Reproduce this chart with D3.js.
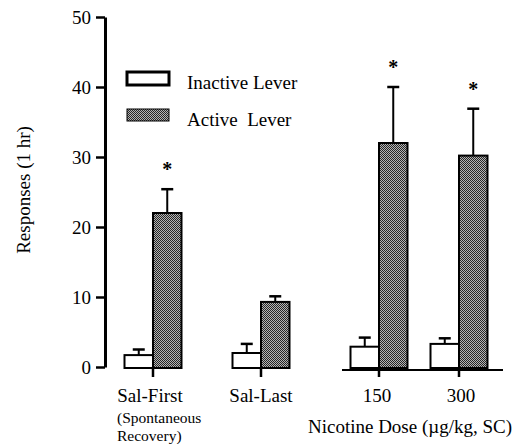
<!DOCTYPE html>
<html>
<head>
<meta charset="utf-8">
<script src="https://cdn.jsdelivr.net/npm/d3@7"></script>
<style>
  body { margin: 0; background: #fff; }
  svg text { font-family: "Liberation Serif", "Times New Roman", Times, "DejaVu Serif", serif !important; fill: #000; }
</style>
</head>
<body>
<div id="chart"></div>
<script>
// groups along the x axis
var groups = ["Sal-First", "Sal-Last", "150", "300"];
var series = ["Inactive Lever", "Active Lever"];

// mean responses and upper error (mean + SEM)
var inactiveMean = [1.7, 2.0, 2.9, 3.3];
var inactiveErr  = [2.5, 3.3, 4.2, 4.1];
var activeMean   = [22.0, 9.3, 32.0, 30.2];
var activeErr    = [25.4, 10.1, 40.0, 36.9];
var significant  = [true, false, true, true];

var yTicks = [0, 10, 20, 30, 40, 50];

var width = 523, height = 444;
var serif = "'Liberation Serif', 'Times New Roman', Times, serif";

var svg = d3.select("#chart")
    .append("svg")
    .attr("width", width)
    .attr("height", height)
    .attr("font-family", serif);

// stippled grey fill for the active lever bars
var pat = svg.append("defs").append("pattern")
    .attr("id", "stipple")
    .attr("width", 2).attr("height", 2)
    .attr("patternUnits", "userSpaceOnUse");
pat.append("rect").attr("width", 2).attr("height", 2).attr("fill", "#b4b4b4");
pat.append("rect").attr("width", 1).attr("height", 1).attr("fill", "#262626");
pat.append("rect").attr("x", 1).attr("y", 1).attr("width", 1).attr("height", 1).attr("fill", "#262626");

var y = d3.scaleLinear().domain([0, 50]).range([367, 17]);

// groups are not evenly spaced in the original, so map each one to its centre
var x = d3.scaleOrdinal().domain(groups).range([153, 261, 379, 459]);
var inner = d3.scaleBand().domain(series).range([-28.5, 28.5]);

// y axis
var yAxis = svg.append("g")
    .attr("transform", "translate(105,0)")
    .call(d3.axisLeft(y).tickValues(yTicks).tickSize(9).tickSizeOuter(0).tickPadding(5));
yAxis.attr("font-family", serif).attr("font-size", 19);
yAxis.select(".domain").attr("stroke", "#000").attr("stroke-width", 3);
yAxis.selectAll(".tick line").attr("stroke", "#000").attr("stroke-width", 2.5);
yAxis.selectAll(".tick text").attr("fill", "#000");

svg.append("text")
    .attr("transform", "translate(30,190) rotate(-90)")
    .attr("text-anchor", "middle")
    .attr("font-size", 19)
    .text("Responses (1 hr)");

// build rows for each bar
var rows = [];
groups.forEach(function(g, i) {
    rows.push({ group: g, s: series[0], mean: inactiveMean[i], err: inactiveErr[i], star: false });
    rows.push({ group: g, s: series[1], mean: activeMean[i], err: activeErr[i], star: significant[i] });
});

var bar = svg.selectAll(".bar")
    .data(rows)
    .enter().append("g")
    .attr("class", "bar");

function mid(d) { return x(d.group) + inner(d.s) + inner.bandwidth() / 2; }

// error bars (upward only), drawn first so the bar covers the stem
bar.append("line")
    .attr("x1", mid).attr("x2", mid)
    .attr("y1", function(d) { return y(d.mean); })
    .attr("y2", function(d) { return y(d.err); })
    .attr("stroke", "#000").attr("stroke-width", 2);
bar.append("line")
    .attr("x1", function(d) { return mid(d) - 6; })
    .attr("x2", function(d) { return mid(d) + 6; })
    .attr("y1", function(d) { return y(d.err); })
    .attr("y2", function(d) { return y(d.err); })
    .attr("stroke", "#000").attr("stroke-width", 2.5);

bar.append("rect")
    .attr("x", function(d) { return x(d.group) + inner(d.s); })
    .attr("y", function(d) { return y(d.mean); })
    .attr("width", inner.bandwidth())
    .attr("height", function(d) { return y(0) - y(d.mean) + 1; })
    .attr("fill", function(d) { return d.s === series[1] ? "url(#stipple)" : "#fff"; })
    .attr("stroke", "#000")
    .attr("stroke-width", 2);

// significance asterisks
bar.filter(function(d) { return d.star; })
    .append("text")
    .attr("x", mid)
    .attr("y", function(d) { return y(d.err) - 13; })
    .attr("text-anchor", "middle")
    .attr("font-size", 20)
    .attr("font-weight", "bold")
    .text("*");

// baseline only under the nicotine doses
svg.append("line")
    .attr("x1", x("150") - 37).attr("x2", x("300") + 44)
    .attr("y1", y(0) + 3).attr("y2", y(0) + 3)
    .attr("stroke", "#000").attr("stroke-width", 2);

// small ticks under every group
svg.selectAll(".xtick")
    .data(groups)
    .enter().append("line")
    .attr("class", "xtick")
    .attr("x1", function(d) { return x(d); })
    .attr("x2", function(d) { return x(d); })
    .attr("y1", y(0) + 2)
    .attr("y2", y(0) + 10)
    .attr("stroke", "#000").attr("stroke-width", 2.5);

// group labels
var labelShift = { "Sal-First": -3, "Sal-Last": 0, "150": -2, "300": 2 };
svg.selectAll(".xlabel")
    .data(groups)
    .enter().append("text")
    .attr("class", "xlabel")
    .attr("x", function(d) { return x(d) + labelShift[d]; })
    .attr("y", 402)
    .attr("text-anchor", "middle")
    .attr("font-size", 19)
    .text(function(d) { return d; });

svg.append("text")
    .attr("x", x("Sal-First") - 36).attr("y", 423)
    .attr("font-size", 15.5)
    .text("(Spontaneous");
svg.append("text")
    .attr("x", x("Sal-First") - 36).attr("y", 441)
    .attr("font-size", 15.5)
    .text("Recovery)");

svg.append("text")
    .attr("x", 410).attr("y", 433)
    .attr("text-anchor", "middle")
    .attr("font-size", 19)
    .text("Nicotine Dose (\u00b5g/kg, SC)");

// legend
var legend = svg.selectAll(".legend")
    .data(series)
    .enter().append("g")
    .attr("class", "legend")
    .attr("transform", function(d, i) { return "translate(127," + (72 + i * 37) + ")"; });
legend.append("rect")
    .attr("width", 42).attr("height", function(d, i) { return i === 0 ? 13 : 12; })
    .attr("fill", function(d, i) { return i === 1 ? "url(#stipple)" : "#fff"; })
    .attr("stroke", "#000")
    .attr("stroke-width", function(d, i) { return i === 0 ? 3 : 1; });
legend.append("text")
    .attr("x", 60).attr("y", 17)
    .attr("font-size", 19)
    .text(function(d) { return d === "Active Lever" ? "Active\u00a0 Lever" : d; });
</script>
</body>
</html>
